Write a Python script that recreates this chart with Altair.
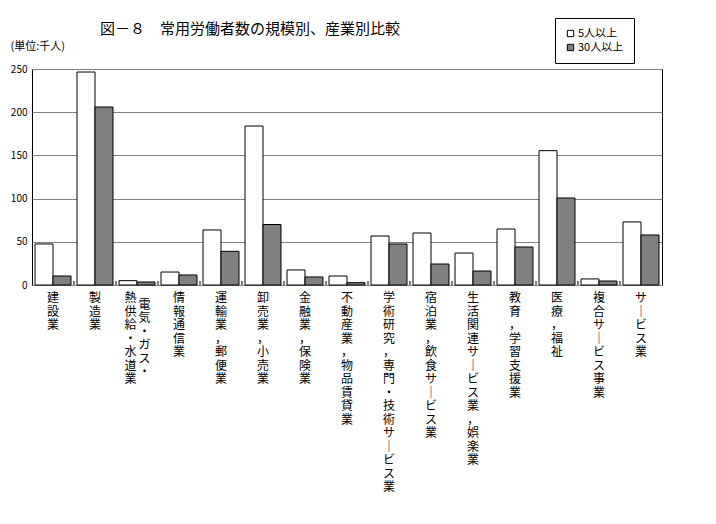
import altair as alt
import pandas as pd

categories = ["建設業", "製造業", "電気・ガス・熱供給・水道業", "情報通信業", "運輸業，郵便業",
              "卸売業，小売業", "金融業，保険業", "不動産業，物品賃貸業",
              "学術研究，専門・技術サービス業", "宿泊業，飲食サービス業",
              "生活関連サービス業，娯楽業", "教育，学習支援業", "医療，福祉",
              "複合サービス事業", "サービス業"]
series = ["5人以上", "30人以上"]
v5 = [47.5, 246.5, 5, 15, 63.7, 184, 17.4, 10.4, 56.7, 60.2, 37, 64.8, 155.5, 7, 73]
v30 = [10.4, 206, 3.5, 11.6, 39, 70, 9.3, 2.7, 47.5, 24.3, 16.2, 44, 100.7, 4.6, 57.9]
y_ticks = [0, 50, 100, 150, 200, 250]
title_text = "図－８　常用労働者数の規模別、産業別比較"
unit_text = "(単位:千人)"
split_cat = "電気・ガス・熱供給・水道業"
split_cols = ["電気・ガス・", "熱供給・水道業"]  # right column, left column

FONT = "Noto Sans CJK JP"

rows = []
for c, a, b in zip(categories, v5, v30):
    rows.append({"category": c, "series": series[0], "value": a})
    rows.append({"category": c, "series": series[1], "value": b})
df = pd.DataFrame(rows)


def vert(s):
    return "\n".join(ch if ch != "ー" else "｜" for ch in s)


lab_main = pd.DataFrame([{"category": c, "lab": vert(c)} for c in categories if c != split_cat])
lab_right = pd.DataFrame([{"category": split_cat, "lab": vert(split_cols[0])}])
lab_left = pd.DataFrame([{"category": split_cat, "lab": vert(split_cols[1])}])
title_df = pd.DataFrame([{"t": title_text}])
tick_df = pd.DataFrame([{"category": c} for c in categories[1:]])

W, H = 630, 216

xscale = alt.Scale(paddingInner=0.143, paddingOuter=0.0715)
xenc = alt.X("category:N", sort=categories, scale=xscale, axis=None)

bars = alt.Chart(df).mark_bar(stroke="black", strokeWidth=1).encode(
    x=xenc,
    xOffset=alt.XOffset("series:N", sort=series, scale=alt.Scale(paddingInner=0, paddingOuter=0)),
    y=alt.Y("value:Q", scale=alt.Scale(domain=[0, 250]),
            axis=alt.Axis(values=y_ticks, domain=False, ticks=False, grid=True,
                          gridColor="#808080", gridWidth=1, labelFontSize=10,
                          labelFont=FONT, labelColor="black", labelPadding=5,
                          title=unit_text, titleAngle=0, titleAlign="left",
                          titleBaseline="middle", titleX=-22, titleY=-23,
                          titleFontSize=11, titleFontWeight="normal", titleFont=FONT,
                          titleColor="black")),
    color=alt.Color("series:N", sort=series,
                    scale=alt.Scale(domain=series, range=["white", "#808080"]),
                    legend=alt.Legend(orient="none", legendX=523, legendY=-51, title=None,
                                      strokeColor="black", fillColor="white", padding=10,
                                      symbolType="square", symbolSize=40,
                                      symbolStrokeColor="black", symbolStrokeWidth=1,
                                      labelFontSize=11, labelFont=FONT, labelColor="black",
                                      rowPadding=2, labelOffset=2)),
)

ticks = alt.Chart(tick_df).mark_rule(color="black", strokeWidth=1, xOffset=-3).encode(
    x=alt.X("category:N", sort=categories, scale=xscale, axis=None, bandPosition=0),
    y=alt.value(H - 4), y2=alt.value(H))

txt_kw = dict(lineBreak="\n", baseline="top", align="center", fontSize=12,
              lineHeight=13.5, font=FONT, color="black")

labels_main = alt.Chart(lab_main).mark_text(**txt_kw).encode(
    x=xenc, y=alt.value(H + 8), text="lab:N")
labels_right = alt.Chart(lab_right).mark_text(dx=7.5, dy=6.5, **txt_kw).encode(
    x=xenc, y=alt.value(H + 8), text="lab:N")
labels_left = alt.Chart(lab_left).mark_text(dx=-6.5, **txt_kw).encode(
    x=xenc, y=alt.value(H + 8), text="lab:N")

title = alt.Chart(title_df).mark_text(align="left", baseline="middle", fontSize=15,
                                      font=FONT, color="black").encode(
    x=alt.value(68), y=alt.value(-40), text="t:N")

chart = alt.layer(bars, ticks, labels_main, labels_right, labels_left, title).properties(
    width=W, height=H,
    autosize="none",
    padding={"left": 24, "top": 61, "right": 38, "bottom": 220},
).configure(font=FONT).configure_view(stroke="black", strokeWidth=1)

chart.save("out.html", embed_options={"renderer": "svg", "actions": False})
